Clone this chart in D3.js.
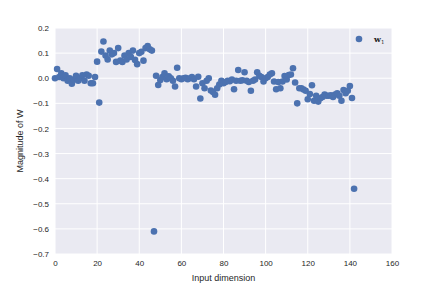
<!DOCTYPE html>
<html><head><meta charset="utf-8">
<script src="https://cdn.jsdelivr.net/npm/d3@7"></script>
<style>body{margin:0;background:#fff}svg{display:block}</style>
</head><body>
<script>
const xTicks = [0,20,40,60,80,100,120,140,160];
const yTicks = [0.2,0.1,0.0,-0.1,-0.2,-0.3,-0.4,-0.5,-0.6,-0.7];
const seriesName = "w";
const weights = [
 0.0, 0.037, 0.005, 0.02, 0.0, 0.012, -0.01, 0.0, -0.022, -0.005,
 0.01, -0.01, 0.0, 0.012, -0.01, 0.015, 0.01, -0.02, -0.02, 0.005,
 0.066, -0.097, 0.106, 0.146, 0.09, 0.075, 0.11, 0.095, 0.1, 0.065,
 0.12, 0.07, 0.065, 0.09, 0.075, 0.1, 0.085, 0.11, 0.073, 0.056,
 0.1, 0.105, 0.07, 0.12, 0.128, 0.115, 0.11, -0.61, 0.01, -0.027,
 -0.007, 0.005, 0.02, -0.004, 0.008, 0.0, -0.01, -0.033, 0.042, 0.0,
 -0.004, 0.0, 0.002, -0.004, 0.0, 0.005, -0.004, -0.033, 0.006, -0.081,
 -0.02, -0.04, -0.01, 0.0, -0.049, -0.055, -0.066, -0.04, -0.025, -0.01,
 -0.02, -0.015, -0.01, -0.012, -0.005, -0.044, -0.01, 0.033, -0.01, -0.008,
 0.024, -0.01, -0.015, -0.05, -0.01, -0.005, 0.024, 0.01, 0.005, -0.013,
 0.0, 0.005, 0.015, 0.02, -0.013, -0.044, -0.015, -0.04, -0.013, 0.009,
 -0.005, 0.013, 0.015, 0.04, -0.017, -0.1, -0.04, -0.04, -0.045, -0.05,
 -0.084, -0.063, -0.028, -0.09, -0.07, -0.093, -0.08, -0.075, -0.065, -0.07,
 -0.07, -0.068, -0.075, -0.065, -0.06, -0.07, -0.09, -0.047, -0.06, -0.05,
 -0.031, -0.079, -0.44
];
const W = 436, H = 283;
const m = {left:55, right:392, top:28, bottom:254};
const svg = d3.select("body").append("svg").attr("width",W).attr("height",H);
const x = d3.scaleLinear().domain([0,160]).range([m.left,m.right]);
const y = d3.scaleLinear().domain([-0.7,0.2]).range([m.bottom,m.top]);
const font = "'Liberation Sans', Arial, sans-serif";
svg.append("rect").attr("x",m.left).attr("y",m.top).attr("width",m.right-m.left).attr("height",m.bottom-m.top).attr("fill","#EAEAF2");
const g = svg.append("g");
g.selectAll("line.vx").data(xTicks).join("line").attr("x1",d=>x(d)).attr("x2",d=>x(d)).attr("y1",m.top).attr("y2",m.bottom).attr("stroke","#fff").attr("stroke-width",1);
g.selectAll("line.hy").data(yTicks).join("line").attr("class","hy").attr("y1",d=>y(d)).attr("y2",d=>y(d)).attr("x1",m.left).attr("x2",m.right).attr("stroke","#fff").attr("stroke-width",1);
const fmt = d => d3.format(".1f")(d).replace("-","\u2212");
const xAxis = svg.append("g").attr("transform",`translate(0,${m.bottom})`).call(d3.axisBottom(x).tickValues(xTicks).tickSize(0).tickPadding(6).tickFormat(d3.format("d")));
const yAxis = svg.append("g").attr("transform",`translate(${m.left},0)`).call(d3.axisLeft(y).tickValues(yTicks).tickSize(0).tickPadding(6).tickFormat(fmt));
[xAxis,yAxis].forEach(a=>{a.select(".domain").remove();a.selectAll("text").attr("font-family",font).attr("font-size",8).attr("fill","#262626");});
svg.append("g").selectAll("circle").data(weights).join("circle")
  .attr("cx",(d,i)=>x(i)).attr("cy",d=>y(d)).attr("r",3.3).attr("fill","#4C72B0");
svg.append("text").attr("x",(m.left+m.right)/2).attr("y",281).attr("text-anchor","middle").attr("font-family",font).attr("font-size",9).attr("fill","#262626").text("Input dimension");
svg.append("text").attr("transform",`translate(23,${(m.top+m.bottom)/2}) rotate(-90)`).attr("text-anchor","middle").attr("font-family",font).attr("font-size",9).attr("fill","#262626").text("Magnitude of W");
const lg = svg.append("g");
lg.append("circle").attr("cx",359).attr("cy",39).attr("r",3.3).attr("fill","#4C72B0");
const lt = lg.append("text").attr("x",374).attr("y",42).attr("font-family","'DejaVu Serif', serif").attr("font-weight","bold").attr("font-size",8).attr("fill","#262626");
lt.append("tspan").text(seriesName);
lt.append("tspan").attr("dy",2).attr("font-size",5.5).attr("font-weight","normal").text("1");
</script>
</body></html>
